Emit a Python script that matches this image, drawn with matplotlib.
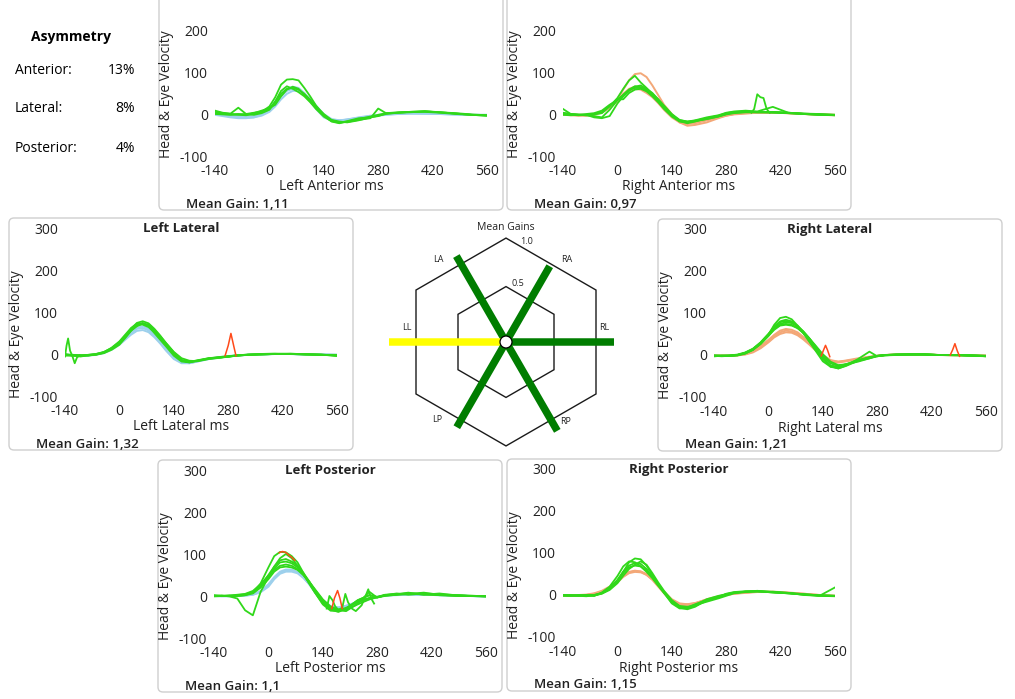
import matplotlib
matplotlib.use('Agg')
import matplotlib.pyplot as plt
import numpy as np
from matplotlib.patches import FancyBboxPatch, Circle, Polygon
from matplotlib import font_manager


def pick_family():
    cands = ['Open Sans', 'Noto Sans', 'Lato', 'Roboto', 'DejaVu Sans']
    for fam in cands:
        ws = [f.weight for f in font_manager.fontManager.ttflist if f.name == fam]
        ws = [w if isinstance(w, int) else 400 for w in ws]
        if any(w >= 600 for w in ws):
            return fam, any(w == 600 for w in ws)
    return 'DejaVu Sans', False


FAM, HAS_SEMI = pick_family()
SEMI = 600 if HAS_SEMI else 'bold'
plt.rcParams['font.family'] = [FAM, 'DejaVu Sans']
plt.rcParams['axes.unicode_minus'] = False

W, H = 1015, 699

# ---------------- data ----------------
T_MS = [-140, -120, -100, -80, -60, -40, -20, 0, 15, 30, 45, 60, 75, 90, 105, 120, 140,
        160, 180, 200, 230, 260, 280, 300, 330, 360, 400, 440, 480, 520, 560]
X_TICKS = [-140, 0, 140, 280, 420, 560]
Y_TICKS = [-100, 0, 100, 200, 300]
Y_TICKS_TOP = [-100, 0, 100, 200]

ASYM_LABELS = ['Anterior:', 'Lateral:', 'Posterior:']
ASYM_VALUES = ['13%', '8%', '4%']

GAIN_LABELS = ['LA', 'RA', 'LL', 'RL', 'LP', 'RP']
GAIN_VALUES = [1.11, 0.97, 1.32, 1.21, 1.10, 1.15]
GAIN_TEXT = ['1,11', '0,97', '1,32', '1,21', '1,1', '1,15']
GAIN_RINGS = [0.5, 1.0]

# Left Anterior
LA_HEAD = [
    [-2, -5, -8, -10, -10, -8, -2, 10, 25, 42, 55, 60, 58, 48, 33, 15, -5, -14, -15, -13, -9, -5, -3, -1, 0, 1, 1, 0, -1, -2, -2],
    [0, -3, -6, -8, -9, -8, -4, 5, 18, 35, 48, 55, 55, 48, 36, 20, 0, -12, -15, -14, -10, -6, -4, -2, 0, 1, 1, 0, -1, -2, -3],
    [3, 0, -3, -5, -6, -5, 0, 12, 30, 48, 60, 65, 62, 50, 32, 12, -8, -16, -16, -13, -8, -4, -2, 0, 2, 2, 1, 0, -1, -2, -2],
]
LA_EYE = [
    [5, 2, 0, -2, -3, 0, 5, 18, 40, 70, 82, 83, 80, 62, 42, 20, -2, -14, -18, -20, -15, -8, -4, 0, 3, 5, 6, 4, 1, -2, -4],
    [8, 3, 1, 15, 0, -2, 2, 10, 28, 48, 60, 62, 58, 48, 34, 18, 0, -15, -20, -19, -14, -10, 13, 2, 3, 4, 6, 4, 1, -2, -3],
    [2, 0, -1, 0, -2, 2, 8, 14, 22, 42, 58, 65, 60, 45, 30, 14, -4, -18, -22, -18, -12, -6, -2, 2, 4, 5, 5, 3, 0, -2, -4],
    [0, -1, -2, -1, 0, 3, 6, 12, 30, 55, 66, 60, 52, 42, 28, 12, -6, -17, -21, -17, -10, -8, -5, 1, 3, 5, 7, 4, 2, -1, -3],
]

# Right Anterior
RA_HEAD = [
    [-2, -3, -4, -4, -2, 3, 15, 35, 58, 80, 95, 97, 88, 68, 45, 22, 0, -20, -28, -26, -20, -10, -4, 0, 3, 4, 3, 2, 0, -2, -3],
    [-1, -2, -3, -3, -1, 4, 15, 30, 48, 60, 65, 63, 56, 44, 28, 12, -6, -18, -22, -20, -14, -7, -3, 0, 2, 3, 3, 2, 0, -1, -2],
    [0, -1, -2, -2, 0, 5, 18, 32, 45, 55, 60, 58, 50, 40, 26, 10, -8, -20, -24, -22, -15, -8, -4, -1, 1, 3, 3, 2, 0, -1, -2],
]
RA_EYE = [
    [3, 0, -2, -3, -1, 2, 18, 38, 60, 80, 91, 75, 62, 48, 35, 18, -2, -15, -18, -16, -10, -4, 2, 5, 6, 4, 3, 2, 0, -2, -3],
    [12, 0, -2, -3, -5, -8, 10, 33, 45, 58, 62, 62, 55, 45, 30, 14, -4, -16, -20, -16, -12, -6, 0, 4, 6, 5, 5, 3, 1, -1, -2],
    [0, -2, -3, -2, -8, -10, -5, 25, 42, 55, 65, 68, 60, 50, 35, 20, 0, -14, -18, -15, -8, -3, 3, 6, 8, 6, 17, 3, 1, 0, -2],
    [-2, -3, -2, 0, 2, 8, 22, 33, 46, 58, 66, 64, 58, 46, 32, 16, -3, -17, -22, -18, -10, -5, 0, 3, 5, 5, 4, 2, 0, -1, -3],
    [2, 0, -1, -2, 0, 4, 20, 35, 35, 50, 58, 60, 54, 42, 28, 12, -6, -18, -20, -17, -12, -6, -1, 2, 4, 4, 5, 3, 0, -2, -2],
]
RA_GREEN_ART_X = [345, 352, 360, 368, 376, 384, 392]
RA_GREEN_ART_Y = [3, 12, 47, 40, 38, 12, 3]

# Left Lateral
LL_HEAD = [
    [-2, -3, -4, -4, -2, 2, 10, 22, 34, 46, 55, 57, 52, 40, 25, 8, -12, -22, -22, -18, -12, -8, -6, -4, -2, -1, 0, 0, -1, -1, -2],
    [-1, -2, -3, -3, -1, 3, 12, 25, 38, 50, 60, 62, 56, 43, 28, 10, -10, -20, -22, -18, -12, -8, -6, -4, -2, -1, 0, 0, -1, -1, -2],
    [-2, -3, -4, -3, 0, 4, 13, 26, 40, 52, 62, 66, 60, 46, 30, 12, -8, -19, -21, -17, -11, -7, -5, -3, -2, -1, 0, 0, -1, -2, -2],
]
LL_EYE = [
    [-3, -4, -6, -3, -2, 3, 12, 26, 42, 60, 74, 78, 73, 60, 44, 26, 4, -14, -18, -16, -10, -8, -6, -4, -2, -1, 0, 0, -1, -2, -4],
    [-2, -2, -4, -2, 0, 5, 14, 28, 44, 58, 70, 74, 68, 55, 38, 22, 0, -15, -20, -17, -11, -8, -7, -4, -2, -1, 0, 1, -1, -2, -3],
    [0, -3, -3, -4, -1, 4, 15, 30, 46, 62, 72, 70, 64, 52, 36, 20, -2, -16, -19, -15, -10, -7, -5, -4, -1, 0, 1, 0, -1, -2, -2],
    [-4, -2, -5, -3, -1, 2, 10, 22, 38, 55, 68, 72, 70, 58, 42, 26, 5, -10, -16, -17, -12, -9, -6, -4, -2, -1, 0, 0, 0, -2, -3],
    [-2, -4, -3, -2, 0, 4, 13, 28, 40, 56, 66, 72, 66, 50, 34, 18, -4, -18, -20, -16, -11, -8, -6, -3, -2, -1, 0, 0, -1, -1, -5],
]
LL_GREEN_ART_X = [-140, -136, -132, -127, -121, -115, -109, -102]
LL_GREEN_ART_Y = [-6, 20, 37, 8, -5, -22, -8, -3]
LL_RED_X = [272, 280, 287, 294, 300]
LL_RED_Y = [-4, 20, 49, 20, -4]

# Right Lateral
RL_HEAD = [
    [-2, -2, -2, -1, 2, 8, 18, 32, 44, 54, 58, 56, 50, 40, 28, 15, -2, -14, -16, -14, -10, -5, -2, 0, 1, 1, 1, 0, 0, -1, -2],
    [-1, -1, -1, 0, 3, 10, 22, 36, 48, 58, 62, 60, 54, 43, 30, 17, 0, -12, -16, -13, -8, -4, -2, 0, 1, 2, 1, 0, 0, -1, -1],
    [-2, -2, -2, -1, 1, 6, 16, 30, 42, 50, 54, 53, 47, 37, 25, 12, -4, -15, -18, -15, -10, -5, -2, 0, 1, 1, 1, 0, -1, -1, -2],
]
RL_EYE = [
    [-2, -1, -2, 0, 5, 14, 28, 48, 72, 88, 91, 85, 70, 52, 32, 12, -15, -28, -30, -24, -14, -8, -2, 0, 1, 1, 2, 0, 0, -1, -3],
    [-3, -2, -1, 1, 6, 15, 30, 50, 68, 80, 84, 80, 68, 52, 34, 16, -10, -25, -28, -22, -12, -5, -2, 0, 1, 1, 1, 0, 0, -1, -2],
    [-1, -2, -2, 0, 4, 12, 26, 45, 62, 74, 78, 76, 68, 56, 40, 22, -5, -26, -32, -26, -14, -6, -3, 0, 1, 2, 2, 0, -1, -1, -3],
    [-2, -3, -2, -1, 3, 12, 27, 47, 66, 78, 81, 78, 70, 56, 40, 20, -8, -28, -32, -25, -10, 8, -3, -1, 1, 1, 1, 0, 0, -2, -3],
    [-1, -2, -1, 0, 5, 14, 30, 50, 65, 72, 74, 72, 64, 52, 38, 22, -2, -20, -26, -22, -14, -6, -2, 0, 1, 2, 1, 0, 0, -1, -2],
    [-3, -2, -2, -1, 4, 13, 28, 46, 60, 70, 72, 70, 64, 54, 40, 24, 2, -16, -24, -22, -16, -8, -3, -1, 0, 1, 1, 0, 0, -1, -2],
]
RL_RED1_X = [136, 142, 147, 152, 158]
RL_RED1_Y = [-2, 12, 23, 12, -4]
RL_RED2_X = [468, 474, 480, 486, 492]
RL_RED2_Y = [0, 12, 27, 10, -3]

# Left Posterior
LP_HEAD = [
    [0, 0, 0, 0, 1, 3, 10, 25, 42, 55, 60, 61, 56, 44, 28, 10, -12, -26, -28, -24, -14, -6, -2, 1, 3, 4, 3, 2, 1, 0, -1],
    [0, 0, -1, 0, 2, 4, 12, 28, 45, 58, 63, 63, 57, 45, 28, 8, -14, -27, -30, -26, -16, -8, -3, 1, 3, 4, 3, 2, 1, 0, -1],
    [0, -1, 0, 1, 1, 3, 9, 22, 40, 53, 58, 58, 54, 43, 29, 12, -10, -24, -27, -23, -14, -6, -2, 1, 2, 3, 3, 2, 1, 0, -1],
]
LP_EYE = [
    [2, 0, 1, 0, 2, 8, 30, 68, 95, 105, 104, 95, 80, 55, 30, 8, -20, -35, -36, -30, -10, 2, -2, 3, 5, 6, 4, 2, 1, 0, -1],
    [0, 1, -1, -6, -34, -46, 10, 45, 70, 90, 100, 90, 72, 52, 30, 8, -18, -30, -35, -30, -12, -5, -3, 1, 4, 6, 5, 2, 1, 0, 0],
    [-1, 0, 0, 2, 4, 10, 25, 50, 70, 85, 88, 82, 72, 55, 35, 12, -15, -32, -38, -30, -10, 2, -3, 2, 4, 8, 3, 6, 2, 0, -1],
    [1, 0, 1, 3, 5, 12, 28, 48, 62, 72, 75, 72, 64, 50, 32, 14, -12, -30, -34, -28, -15, -5, -3, 2, 3, 5, 8, 3, 1, 0, 0],
    [0, 1, 0, 1, 3, 8, 22, 45, 65, 80, 82, 78, 68, 52, 34, 14, -10, -28, -34, -36, -18, 10, -4, 2, 6, 3, 6, 4, 2, 1, -1],
    [0, 0, 1, 0, 2, 6, 20, 40, 58, 68, 70, 68, 62, 50, 34, 16, -8, -25, -32, -33, -20, -8, -3, 0, 3, 5, 4, 3, 1, 0, 0],
]
LP_GREEN_ART_X = [150, 157, 165, 172, 180, 190, 198, 205, 215, 225, 240, 250, 257, 264, 272]
LP_GREEN_ART_Y = [-30, 0, -10, -25, -33, -28, 5, -15, -30, -36, -22, 0, 16, -5, -18]
LP_RED1_X = [28, 36, 44, 52, 60, 68]
LP_RED1_Y = [103, 106, 104, 98, 92, 85]
LP_RED2_X = [163, 170, 178, 184, 190]
LP_RED2_Y = [-30, -5, 13, -5, -30]

# Right Posterior
RP_HEAD = [
    [-1, -1, -1, 0, 3, 8, 18, 32, 45, 54, 57, 56, 50, 38, 22, 6, -12, -22, -22, -20, -12, -4, 0, 3, 6, 8, 8, 6, 3, 0, -2],
    [-1, -1, 0, 1, 4, 10, 20, 34, 46, 55, 58, 56, 48, 36, 20, 4, -14, -24, -24, -20, -10, -3, 1, 4, 6, 8, 7, 5, 2, -1, -2],
    [-1, -2, -1, 0, 2, 7, 16, 30, 43, 52, 55, 54, 48, 37, 23, 8, -10, -20, -22, -19, -11, -4, 0, 3, 5, 7, 7, 5, 3, 0, -2],
]
RP_EYE = [
    [0, -1, -2, 0, 0, 4, 14, 32, 55, 78, 87, 85, 70, 48, 25, 5, -20, -32, -32, -24, -10, -2, 2, 5, 8, 9, 7, 4, 2, -1, -2],
    [-1, -2, 0, -1, -2, 6, 20, 45, 68, 80, 78, 68, 55, 40, 22, 5, -18, -30, -34, -28, -12, -4, 2, 6, 8, 10, 7, 5, 0, -2, -3],
    [-2, -2, -1, -2, 0, 5, 16, 36, 56, 70, 76, 74, 62, 44, 26, 8, -15, -28, -30, -26, -14, -6, 3, 7, 9, 9, 6, 4, 1, -2, 18],
    [0, -1, -2, -3, -1, 3, 12, 28, 46, 62, 72, 80, 72, 52, 30, 10, -12, -26, -28, -24, -16, -8, -2, 4, 7, 8, 8, 5, 2, -1, -2],
    [-1, 0, -1, 0, -2, 4, 16, 34, 52, 66, 70, 68, 58, 42, 24, 6, -16, -28, -30, -22, -12, -6, 1, 5, 8, 9, 6, 4, 1, -1, -2],
]

# ---------------- styling ----------------
GREEN = '#30d81a'
BLUE = '#9dd0ec'
ORANGE = '#f3a878'
RED = '#ff4a1a'
TXT = '#222222'

fig = plt.figure(figsize=(W / 100, H / 100), dpi=100)
bg = fig.add_axes([0, 0, 1, 1])
bg.set_xlim(0, W)
bg.set_ylim(H, 0)
bg.axis('off')

BOX_W, BOX_H = 344, 232


def panel(box_l, box_t, title, gain_txt, heads, head_color, eyes, greens=(), reds=(),
          top_row=False):
    bg.add_patch(FancyBboxPatch((box_l, box_t), BOX_W, BOX_H,
                                boxstyle='round,pad=0,rounding_size=5',
                                fc='white', ec='#cfcfcf', lw=1.0))
    cx = box_l + BOX_W / 2
    if not top_row:
        bg.text(cx, box_t + 10, title, ha='center', va='center', fontsize=9.5,
                fontweight='bold', color=TXT)
    bg.text(cx, box_t + 209, title + ' ms', ha='center', va='center',
            fontsize=10, color=TXT)
    bg.text(box_l + 8, box_t + 116, 'Head & Eye Velocity', rotation=90,
            ha='center', va='center', fontsize=10, color=TXT)
    bg.text(box_l + 27, box_t + 226, 'Mean Gain: ' + gain_txt, ha='left',
            va='center', fontsize=9.5, fontweight=SEMI, color=TXT)

    ax = fig.add_axes([(box_l + 56) / W, 1 - (box_t + 178) / H, 272 / W, 168 / H])
    ax.set_xlim(-140, 560)
    ax.set_ylim(-100, 300)
    ax.patch.set_alpha(0)
    for s in ax.spines.values():
        s.set_visible(False)
    ax.set_xticks(X_TICKS)
    ax.set_yticks(Y_TICKS_TOP if top_row else Y_TICKS)
    ax.tick_params(axis='x', length=0, labelsize=10, pad=6, colors=TXT)
    ax.tick_params(axis='y', length=0, labelsize=10, pad=5, colors=TXT)
    for h in heads:
        ax.plot(T_MS, h, color=head_color, lw=1.4, solid_joinstyle='round')
    for e in eyes:
        ax.plot(T_MS, e, color=GREEN, lw=1.3, solid_joinstyle='round')
    for gx, gy in greens:
        ax.plot(gx, gy, color=GREEN, lw=1.3)
    for rx, ry in reds:
        ax.plot(rx, ry, color=RED, lw=1.1)
    return ax


panel(159, -22, 'Left Anterior', GAIN_TEXT[0], LA_HEAD, BLUE, LA_EYE, top_row=True)
panel(507, -22, 'Right Anterior', GAIN_TEXT[1], RA_HEAD, ORANGE, RA_EYE,
      greens=[(RA_GREEN_ART_X, RA_GREEN_ART_Y)], top_row=True)
panel(9, 218, 'Left Lateral', GAIN_TEXT[2], LL_HEAD, BLUE, LL_EYE,
      greens=[(LL_GREEN_ART_X, LL_GREEN_ART_Y)], reds=[(LL_RED_X, LL_RED_Y)])
panel(658, 219, 'Right Lateral', GAIN_TEXT[3], RL_HEAD, ORANGE, RL_EYE,
      reds=[(RL_RED1_X, RL_RED1_Y), (RL_RED2_X, RL_RED2_Y)])
panel(158, 460, 'Left Posterior', GAIN_TEXT[4], LP_HEAD, BLUE, LP_EYE,
      greens=[(LP_GREEN_ART_X, LP_GREEN_ART_Y)],
      reds=[(LP_RED1_X, LP_RED1_Y), (LP_RED2_X, LP_RED2_Y)])
panel(507, 459, 'Right Posterior', GAIN_TEXT[5], RP_HEAD, ORANGE, RP_EYE)

# ---------------- asymmetry block ----------------
bg.text(71, 37, 'Asymmetry', ha='center', va='center', fontsize=10,
        fontweight='bold', color='black')
for i, (lab, val) in enumerate(zip(ASYM_LABELS, ASYM_VALUES)):
    yy = 70 + i * 39
    bg.text(15, yy, lab, ha='left', va='center', fontsize=10, color='black')
    bg.text(135, yy, val, ha='right', va='center', fontsize=10, color='black')

# ---------------- mean gains hexagon ----------------
HCX, HCY = 506, 342
hx = fig.add_axes([380 / W, 1 - 455 / H, 252 / W, 240 / H])
hx.set_xlim(380 - HCX, 632 - HCX)
hx.set_ylim(HCY - 455, HCY - 215)
hx.axis('off')
R0, K = 6.0, 84.0
for ring in GAIN_RINGS:
    apo = R0 + K * ring
    rc = apo / np.cos(np.radians(30))
    ang = np.radians(90 + 60 * np.arange(6))
    hx.add_patch(Polygon(np.c_[rc * np.cos(ang), rc * np.sin(ang)], closed=True,
                         fill=False, ec='#1a1a1a', lw=1.0, zorder=1))
SPOKE_ANG = {'LA': 120, 'RA': 60, 'LL': 180, 'RL': 0, 'LP': 240, 'RP': 300}
LABEL_OFF = {'LA': (-68, 82), 'RA': (61, 82), 'LL': (-99, 15), 'RL': (98, 15),
             'LP': (-69, -78), 'RP': (60, -80)}
for lab, g in zip(GAIN_LABELS, GAIN_VALUES):
    a = np.radians(SPOKE_ANG[lab])
    r = R0 + K * g
    col = '#ffff00' if lab == 'LL' else '#007d00'
    hx.plot([0, r * np.cos(a)], [0, r * np.sin(a)], color=col, lw=5.4,
            solid_capstyle='butt', zorder=2)
    ox, oy = LABEL_OFF[lab]
    hx.text(ox, oy, lab, ha='center', va='center', fontsize=6.5, color=TXT)
hx.add_patch(Circle((0, 0), 6, fc='white', ec='black', lw=0.9, zorder=3))
hx.text(0, HCY - 227, 'Mean Gains', ha='center', va='center', fontsize=7.5,
        color=TXT)
hx.text(527 - HCX, HCY - 242, '1.0', ha='center', va='center', fontsize=6.5, color=TXT)
hx.text(518 - HCX, HCY - 283, '0.5', ha='center', va='center', fontsize=6.5, color=TXT)

fig.savefig('out.png', dpi=100)
